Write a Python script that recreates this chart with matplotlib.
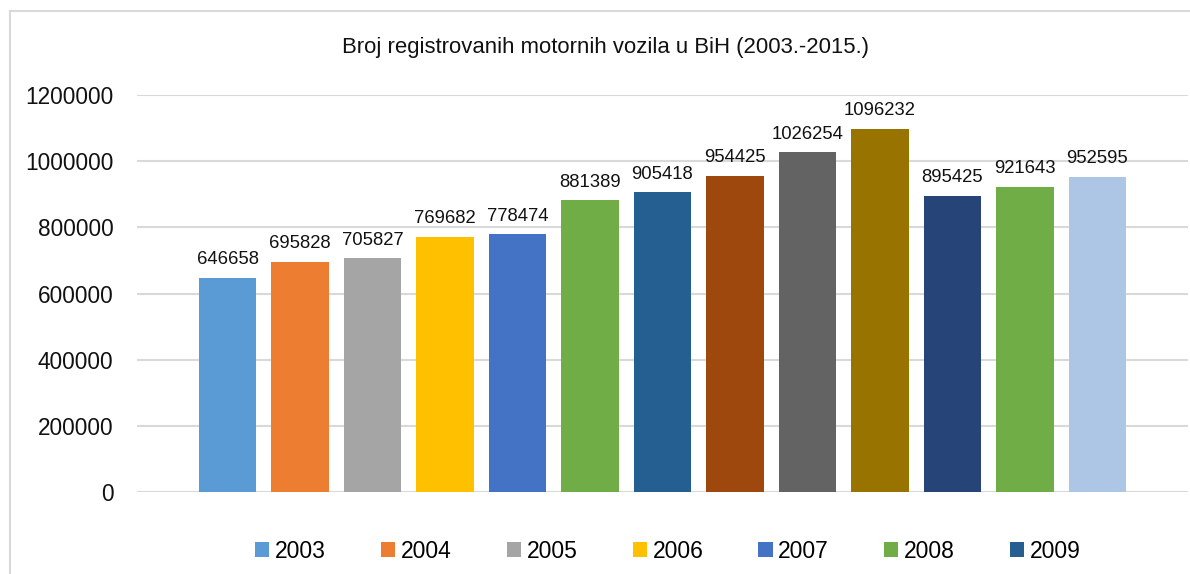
import numpy as np
import matplotlib
matplotlib.use('Agg')
import matplotlib.pyplot as plt
from matplotlib.patches import Patch
from matplotlib.lines import Line2D

years = ['2003', '2004', '2005', '2006', '2007', '2008', '2009',
         '2010', '2011', '2012', '2013', '2014', '2015']
vehicles = [646658, 695828, 705827, 769682, 778474, 881389, 905418,
            954425, 1026254, 1096232, 895425, 921643, 952595]
colors = ['#5B9BD5', '#ED7D31', '#A5A5A5', '#FFC000', '#4472C4', '#70AD47', '#255E91',
          '#9E480E', '#636363', '#997300', '#264478', '#70AD47', '#ADC6E6']
y_ticks = [0, 200000, 400000, 600000, 800000, 1000000, 1200000]

plt.rcParams['font.family'] = ['Liberation Sans', 'DejaVu Sans']

W, H = 1190, 574
fig = plt.figure(figsize=(W / 100, H / 100), dpi=100)
ax = fig.add_axes([137 / W, (H - 492) / H, (1188 - 137) / W, (492 - 95) / H])

x = np.arange(len(years))
bars = ax.bar(x, vehicles, width=0.79, color=colors, zorder=3)
for xi, v in zip(x, vehicles):
    ax.annotate(str(v), (xi, v), xytext=(0, 10), textcoords='offset points',
                ha='center', va='baseline', fontsize=13.3, color='#111111')

ax.set_xlim(-1.25, 13.25)
ax.set_ylim(0, 1200000)
ax.set_yticks(y_ticks)
ax.set_yticklabels([str(t) for t in y_ticks], fontsize=16.3, color='#111111')
ax.set_xticks([])
ax.tick_params(axis='y', length=0, pad=17)
ax.grid(axis='y', color='#D9D9D9', linewidth=1.5, zorder=0)
for s in ax.spines.values():
    s.set_visible(False)

fig.text(605 / W, 1 - 47 / H, 'Broj registrovanih motornih vozila u BiH (2003.-2015.)',
         ha='center', va='center', fontsize=15.9, color='#111111')

# only the first seven entries fit in the legend
handles = [Patch(facecolor=c, edgecolor='none') for c in colors[:7]]
fig.legend(handles, years[:7], loc='center', bbox_to_anchor=(668 / W, 1 - 551 / H),
           ncol=7, frameon=False, fontsize=16.5, handlelength=0.62, handleheight=0.62,
           handletextpad=0.25, columnspacing=2.4)

# chart border
fig.add_artist(Line2D([10 / W, 10 / W], [0, 1 - 11 / H], color='#D9D9D9', linewidth=1.5))
fig.add_artist(Line2D([10 / W, 1], [1 - 11 / H, 1 - 11 / H], color='#D9D9D9', linewidth=1.5))

fig.savefig('out.png', dpi=100)
